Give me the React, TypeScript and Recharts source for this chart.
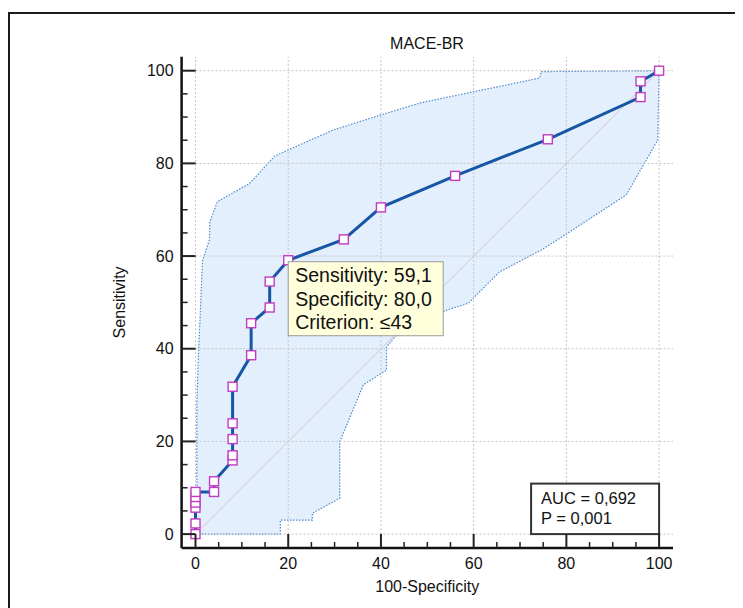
import React from "react";
import {
    ComposedChart, Area, Line, XAxis, YAxis,
    ReferenceLine, ReferenceDot, Label
} from "recharts";

// ROC curve: 100-Specificity vs Sensitivity
const rocSpec = [0, 0, 0, 0, 0, 0, 4, 4, 8, 8, 8, 8, 8, 12, 12, 16, 16, 20, 32, 40, 56, 76, 96, 96, 100];
const rocSens = [0, 2.3, 5.7, 6.8, 8.0, 9.1, 9.1, 11.4, 15.9, 17.0, 20.5, 23.9, 31.8, 38.6, 45.5, 48.9, 54.5, 59.1, 63.6, 70.5, 77.3, 85.2, 94.3, 97.7, 100];

// 95% confidence band edges [x, y]
const upperBand: [number, number][] = [
    [0, 0], [0.3, 10], [0.3, 28], [0.6, 38], [1.0, 47], [1.5, 59], [3.0, 63.5], [3.1, 67.4],
    [4.7, 71.7], [11.7, 75.7], [17.1, 81.6], [20, 82.9], [29.7, 87.2], [39.8, 90.4],
    [48.7, 93.1], [74.2, 98.4], [74.6, 99.8], [100, 100],
];
const lowerBand: [number, number][] = [
    [0, 0], [18.3, 0], [18.3, 3], [25.2, 3], [25.2, 4.5], [31.1, 7.7], [31.1, 19.9],
    [36.2, 32.2], [41.2, 35.4], [41.2, 40.4], [43.4, 43], [54.1, 48.3], [58.8, 49.8],
    [65.6, 56.6], [74.6, 61.3], [79.6, 64.5], [92.9, 73.2], [99.7, 85], [100, 100],
];

const axisTicks = [0, 5, 10, 15, 20, 25, 30, 35, 40, 45, 50, 55, 60, 65, 70, 75, 80, 85, 90, 95, 100];
const gridValues = [0, 20, 40, 60, 80, 100];

const cutoffPoint = { x: 20, y: 59.1 };
const cutoffLines = ["Sensitivity: 59,1", "Specificity: 80,0", "Criterion: \u226443"];
const statLines = ["AUC = 0,692", "P = 0,001"];

const FONT = "Arial, 'Liberation Sans', sans-serif";

const rocData = rocSpec.map((x, i) => ({ x, y: rocSens[i] }));
const bandData = [...upperBand, ...lowerBand.slice(0, -1).reverse()].map(([x, y]) => ({ x, y }));

const XTick = (props: any) => {
    const { x, y, payload } = props;
    const major = payload.value % 20 === 0;
    return (
        <g>
            <line x1={x} y1={y} x2={x} y2={y - (major ? 14 : 6)} stroke="#222" strokeWidth={major ? 2 : 1.5} />
            {major && (
                <text x={x} y={y + 21} textAnchor="middle" fontSize={16} fontFamily={FONT} fill="#111">
                    {payload.value}
                </text>
            )}
        </g>
    );
};

const YTick = (props: any) => {
    const { x, y, payload } = props;
    const major = payload.value % 20 === 0;
    return (
        <g>
            <line x1={x} y1={y} x2={x + (major ? 14 : 6)} y2={y} stroke="#222" strokeWidth={major ? 2 : 1.5} />
            {major && (
                <text x={x - 8} y={y} dy="0.35em" textAnchor="end" fontSize={16} fontFamily={FONT} fill="#111">
                    {payload.value}
                </text>
            )}
        </g>
    );
};

const Marker = (p: any) => (
    <rect key={`m${p.index}`} x={p.cx - 4.5} y={p.cy - 4.5} width={9} height={9}
        fill="#fff" stroke="#c03cc0" strokeWidth={1.4} />
);

const CutoffBox = (p: any) => (
    <g>
        <rect x={p.cx} y={p.cy + 1.5} width={155} height={74} fill="#ffffdc" stroke="#9a9a9a" strokeWidth={1} />
        {cutoffLines.map((t, i) => (
            <text key={t} x={p.cx + 7} y={p.cy + 22 + i * 23.4} fontSize={19.5} fontFamily={FONT} fill="#111">{t}</text>
        ))}
    </g>
);

const StatBox = (p: any) => (
    <g>
        <rect x={p.cx - 128} y={p.cy - 50.5} width={128} height={50.5} fill="#fff" stroke="#333" strokeWidth={2} />
        {statLines.map((t, i) => (
            <text key={t} x={p.cx - 118} y={p.cy - 30 + i * 20} fontSize={16.5} fontFamily={FONT} fill="#111">{t}</text>
        ))}
    </g>
);

export default function App() {
    return (
        <div style={{ position: "relative", width: 735, height: 600 }}>
            <div style={{
                position: "absolute", left: 0, top: 4, width: 735, height: 596, boxSizing: "border-box",
                borderLeft: "2px solid #1a1a1a", borderTop: "2px solid #1a1a1a",
            }} />
            <div style={{
                position: "absolute", left: 319, top: 27, width: 200, textAlign: "center",
                fontFamily: FONT, fontSize: 16, lineHeight: "18px", color: "#111",
            }}>MACE-BR</div>
            <ComposedChart width={735} height={600} style={{ position: "absolute", left: 0, top: 0 }}
                margin={{ top: 48.8, right: 70, bottom: 10, left: 113.6 }}>
                <XAxis type="number" dataKey="x" domain={[-3, 103]} allowDataOverflow ticks={axisTicks}
                    interval={0} tick={<XTick />} tickLine={false} tickSize={0} tickMargin={0} height={50}
                    axisLine={{ stroke: "#111", strokeWidth: 2.5 }}>
                    <Label value="100-Specificity" position="insideBottom" offset={6}
                        style={{ fontSize: 16, fontFamily: FONT, fill: "#111" }} />
                </XAxis>
                <YAxis type="number" dataKey="y" domain={[-3, 103]} allowDataOverflow ticks={axisTicks}
                    interval={0} tick={<YTick />} tickLine={false} tickSize={0} tickMargin={0} width={60}
                    axisLine={{ stroke: "#111", strokeWidth: 2.5 }}>
                    <Label value="Sensitivity" angle={-90} position="insideLeft" offset={-2}
                        style={{ fontSize: 16, fontFamily: FONT, fill: "#111", textAnchor: "middle" }} />
                </YAxis>
                <Area data={bandData} dataKey="y" type="linear" baseValue={0} fill="#e3effc" fillOpacity={1}
                    stroke="#4d8ad0" strokeWidth={1.2} strokeDasharray="1.5 1.5" dot={false} activeDot={false}
                    isAnimationActive={false} />
                {gridValues.map((v) => (
                    <ReferenceLine key={`gx${v}`} segment={[{ x: v, y: 0 }, { x: v, y: 103 }]}
                        stroke="#c4c4c4" strokeDasharray="2 2" strokeWidth={1} />
                ))}
                {gridValues.map((v) => (
                    <ReferenceLine key={`gy${v}`} segment={[{ x: 0, y: v }, { x: 103, y: v }]}
                        stroke="#c4c4c4" strokeDasharray="2 2" strokeWidth={1} />
                ))}
                <ReferenceLine segment={[{ x: 0, y: 0 }, { x: 100, y: 100 }]} stroke="#d8c4d2" strokeWidth={1} />
                <Line data={rocData} dataKey="y" type="linear" stroke="#1656a4" strokeWidth={3}
                    dot={Marker} activeDot={false} isAnimationActive={false} />
                <ReferenceDot x={cutoffPoint.x} y={cutoffPoint.y} r={0} shape={CutoffBox} />
                <ReferenceDot x={100} y={0} r={0} shape={StatBox} />
            </ComposedChart>
        </div>
    );
}
